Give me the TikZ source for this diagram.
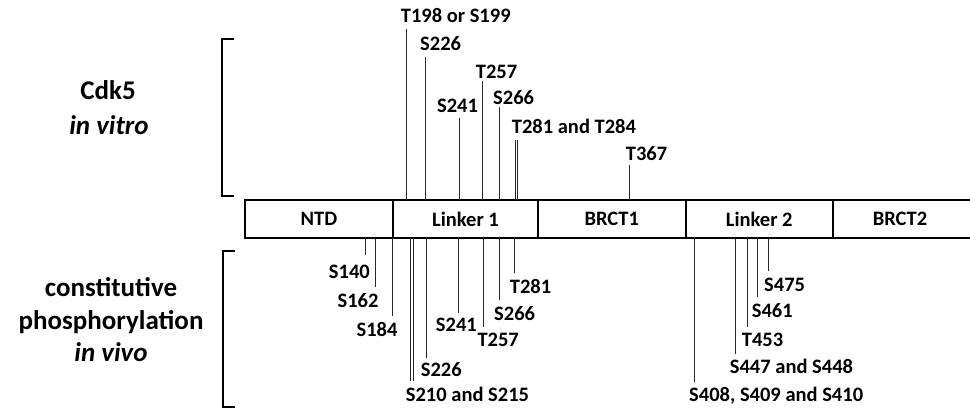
\documentclass[tikz,border=0pt]{standalone}
\usepackage{fontspec}
\setmainfont{Carlito}
\usetikzlibrary{positioning}
\tikzset{
  dom/.style={draw,line width=2pt,minimum height=38pt,outer sep=0pt,inner sep=0pt,font=\fontsize{20.5}{24}\selectfont\bfseries},
  tick/.style={black!85,line width=0.9pt},
  site/.style={inner sep=0pt,font=\fontsize{20.5}{24}\selectfont\bfseries},
  grp/.style={inner sep=0pt,anchor=base,font=\fontsize{27}{32}\selectfont\bfseries},
  brk/.style={line width=2pt}
}

\begin{document}
\begin{tikzpicture}[x=1pt,y=-1pt]
\useasboundingbox (0,0) rectangle (970,412);
\clip (0,0) rectangle (970,412);
% domain bar
\node[dom,minimum width=148pt] (ntd) at (319,219) {NTD};
\node[dom,minimum width=145pt,right=0pt of ntd] (lk1) {Linker 1};
\node[dom,minimum width=147.5pt,right=0pt of lk1] (brct1) {BRCT1};
\node[dom,minimum width=147.5pt,right=0pt of brct1] (lk2) {Linker 2};
\node[dom,minimum width=140pt,right=0pt of lk2] (brct2) {BRCT2\hspace*{6pt}};

% Cdk5 sites, above the bar
\foreach \nm/\x/\y in {t198/406.7/29,s226a/425.7/57,s241a/459/118,t257a/482.7/81,
    s266a/499/107,t281a/515/140,t284a/517.7/140,t367/629.3/165}{
  \coordinate (\nm) at (\x,\y);
  \draw[tick] (ntd.north -| \nm) -- (\nm);
}
\node[site,anchor=base west] (lt198) at (400.7,23) {T198 or S199};
\node[site,anchor=base west] (ls226a) at (420,50.7) {S226};
\node[site,anchor=base] (ls241a) at (457.5,113) {S241};
\node[site,anchor=base west] (lt257a) at (475.7,78) {T257};
\node[site,anchor=base west] (ls266a) at (493,105) {S266};
\node[site,anchor=base west] (lt281a) at (511.7,133) {T281 and T284};
\node[site,anchor=base west] (lt367) at (625.7,160) {T367};

% in vivo sites, below the bar
\foreach \nm/\x/\y in {s140/365/255,s162/375.7/286.7,s184/392.7/316,s210/410.7/380.7,
    s215/413.3/380.7,s226b/426/357.7,s241b/458.3/313,t257b/483.3/326.7,s266b/499.3/300,
    t281b/514/272.7,s408/694/381.7,s447/735/354,t453/747.7/326.7,s461/757.3/296.7,s475/768.7/271}{
  \coordinate (\nm) at (\x,\y);
  \draw[tick] (ntd.south -| \nm) -- (\nm);
}
\node[site,anchor=base east] (ls140) at (370,278) {S140};
\node[site,anchor=base east] (ls162) at (378.7,307) {S162};
\node[site,anchor=base east] (ls184) at (397.7,336) {S184};
\node[site,anchor=base west] (ls210) at (405.7,401.7) {S210 and S215};
\node[site,anchor=base west] (ls226b) at (420.7,376.7) {S226};
\node[site,anchor=base] (ls241b) at (456.4,331.7) {S241};
\node[site,anchor=base west] (lt257b) at (477.3,346.7) {T257};
\node[site,anchor=base west] (ls266b) at (494,320) {S266};
\node[site,anchor=base west] (lt281b) at (509.7,293.3) {T281};
\node[site,anchor=base west] (ls408) at (689,401.7) {S408, S409 and S410};
\node[site,anchor=base west] (ls447) at (729.7,373) {S447 and S448};
\node[site,anchor=base west] (lt453) at (741.7,346.7) {T453};
\node[site,anchor=base west] (ls461) at (751.7,317) {S461};
\node[site,anchor=base west] (ls475) at (764,291.7) {S475};

% brackets and group labels
\draw[brk] (234.3,39.3) -- (222,39.3) -- (222,196) -- (234.3,196);
\draw[brk] (234.7,250.7) -- (222.7,250.7) -- (222.7,407.3) -- (234.7,407.3);
\node[grp] (cdk) at (108,99.3) {Cdk5};
\node[grp] (vitro) at (109,135) {\itshape in vitro};
\node[grp] (const) at (111,296) {constitutive};
\node[grp] (phos) at (111,329.3) {phosphorylation};
\node[grp] (vivo) at (111,361.7) {\itshape in vivo};
\end{tikzpicture}
\end{document}
